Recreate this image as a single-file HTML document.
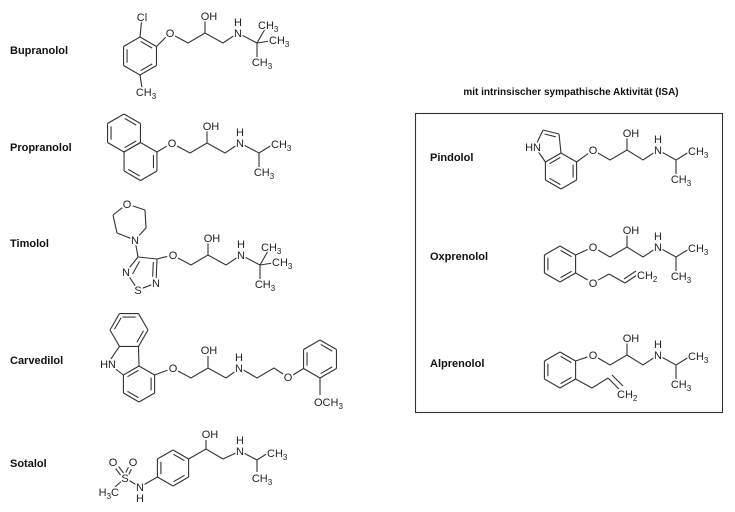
<!DOCTYPE html>
<html><head><meta charset="utf-8">
<style>
html,body{margin:0;padding:0;background:#fff;}
svg{display:block;}
text{font-family:"Liberation Sans",Arial,sans-serif;font-size:11px;fill:#222;stroke:#fff;stroke-width:3px;paint-order:stroke;stroke-linejoin:round;}
text.lab{font-weight:bold;font-size:11px;stroke:none;fill:#111;}
text.m{text-anchor:middle;}
text.e{text-anchor:end;}
#b path,#b line,.ch path{stroke:#333;stroke-width:1.1;fill:none;}
</style></head><body>
<svg id="s" width="735" height="512" viewBox="0 0 735 512" xmlns="http://www.w3.org/2000/svg">
<g id="b"></g>

<text class="lab" x="10" y="54">Bupranolol</text>
<text class="lab" x="10" y="151">Propranolol</text>
<text class="lab" x="10" y="247">Timolol</text>
<text class="lab" x="10" y="364">Carvedilol</text>
<text class="lab" x="10" y="467">Sotalol</text>
<text class="lab" x="571" y="95" style="text-anchor:middle;font-size:10px">mit intrinsischer sympathische Aktivität (ISA)</text>
<rect x="415.5" y="113.5" width="307" height="299" fill="none" stroke="#333" stroke-width="1.1"/>
<text class="lab" x="430" y="161">Pindolol</text>
<text class="lab" x="430" y="260">Oxprenolol</text>
<text class="lab" x="430" y="367">Alprenolol</text>

<!-- Bupranolol chain (tBu) -->
<g class="ch" transform="translate(170,33)">
<path d="M5,3 L18,10 L35,0 L53,10 L68,0 L87,10 M35,0 V-12 M87,10 L95,-4 M87,10 L100,8 M87,10 V24"/>
<text class="m" x="0" y="4">O</text><text class="m" x="39" y="-13">OH</text>
<text class="m" x="68" y="4">N</text><text class="m" x="68" y="-7">H</text>
<text x="88" y="-4">CH<tspan font-size="8" dy="3">3</tspan></text>
<text x="99" y="11">CH<tspan font-size="8" dy="3">3</tspan></text>
<text class="m" x="92" y="33">CH<tspan font-size="8" dy="3">3</tspan></text>
</g>
<text class="m" x="142" y="21">Cl</text>
<text class="m" x="146" y="96">CH<tspan font-size="8" dy="3">3</tspan></text>

<!-- Propranolol -->
<g class="ch" transform="translate(172,143)">
<path d="M5,3 L18,10 L35,0 L53,10 L68,0 L87,10 L100,2 M35,0 V-12 M87,10 V24"/>
<text class="m" x="0" y="4">O</text><text class="m" x="39" y="-13">OH</text>
<text class="m" x="68" y="4">N</text><text class="m" x="68" y="-7">H</text>
<text x="99" y="5">CH<tspan font-size="8" dy="3">3</tspan></text>
<text class="m" x="92" y="33">CH<tspan font-size="8" dy="3">3</tspan></text>
</g>

<!-- Timolol -->
<g class="ch" transform="translate(173,255)">
<path d="M5,3 L18,10 L35,0 L53,10 L68,0 L87,10 M35,0 V-12 M87,10 L95,-4 M87,10 L100,8 M87,10 V24"/>
<text class="m" x="0" y="4">O</text><text class="m" x="39" y="-13">OH</text>
<text class="m" x="68" y="4">N</text><text class="m" x="68" y="-7">H</text>
<text x="88" y="-4">CH<tspan font-size="8" dy="3">3</tspan></text>
<text x="99" y="11">CH<tspan font-size="8" dy="3">3</tspan></text>
<text class="m" x="92" y="33">CH<tspan font-size="8" dy="3">3</tspan></text>
</g>
<text class="m" x="127" y="208">O</text>
<text class="m" x="135" y="244">N</text>
<text class="m" x="126" y="276">N</text>
<text class="m" x="138" y="294">S</text>
<text class="m" x="156" y="287">N</text>

<!-- Carvedilol -->
<g class="ch" transform="translate(173,368)">
<path d="M5,3 L18,10 L35,0 L53,10 L67,0 L84,10 L101,0 L110,6 M35,0 V-12"/>
<text class="m" x="0" y="4">O</text><text class="m" x="36" y="-14">OH</text>
<text class="m" x="66" y="4">N</text><text class="m" x="66" y="-7">H</text>
<text class="m" x="115" y="13">O</text>
</g>
<text class="e" x="116" y="368">HN</text>
<text x="314" y="406">OCH<tspan font-size="8" dy="3">3</tspan></text>

<!-- Sotalol -->
<g class="ch">
<path d="M188.6,459 L206,449 L223,459 L240,451 L257,460 L268,453 M206,449 V440 M257,460 V472 M157.4,477 L140,487 L125,478 L115,487"/>
<text class="m" x="210" y="438">OH</text>
<text class="m" x="240" y="455">N</text><text class="m" x="240" y="444">H</text>
<text x="267" y="457">CH<tspan font-size="8" dy="3">3</tspan></text>
<text class="m" x="262" y="482">CH<tspan font-size="8" dy="3">3</tspan></text>
<text class="m" x="140" y="491">N</text><text class="m" x="140" y="502">H</text>
<text class="m" x="125" y="482">S</text>
<text class="m" x="113" y="466">O</text><text class="m" x="133" y="466">O</text>
<text class="e" x="119" y="496">H<tspan font-size="8" dy="3">3</tspan><tspan dy="-3">C</tspan></text>
</g>

<!-- Pindolol -->
<g class="ch" transform="translate(593,150)">
<path d="M5,3 L17,10 L34,0 L50,10 L65,0 L83,10 L96,2 M34,0 V-12 M83,10 V24"/>
<text class="m" x="0" y="4">O</text><text class="m" x="38" y="-13">OH</text>
<text class="m" x="65" y="4">N</text><text class="m" x="65" y="-7">H</text>
<text x="95" y="5">CH<tspan font-size="8" dy="3">3</tspan></text>
<text class="m" x="88" y="33">CH<tspan font-size="8" dy="3">3</tspan></text>
</g>
<text class="e" x="541" y="151">HN</text>

<!-- Oxprenolol -->
<g class="ch" transform="translate(593,247)">
<path d="M5,3 L17,10 L34,0 L50,10 L65,0 L83,10 L96,2 M34,0 V-12 M83,10 V24"/>
<text class="m" x="0" y="4">O</text><text class="m" x="38" y="-13">OH</text>
<text class="m" x="65" y="4">N</text><text class="m" x="65" y="-7">H</text>
<text x="95" y="5">CH<tspan font-size="8" dy="3">3</tspan></text>
<text class="m" x="88" y="33">CH<tspan font-size="8" dy="3">3</tspan></text>
</g>
<text class="m" x="593" y="287">O</text>
<text x="637" y="279">CH<tspan font-size="8" dy="3">2</tspan></text>

<!-- Alprenolol -->
<g class="ch" transform="translate(593,355)">
<path d="M5,3 L17,10 L34,0 L50,10 L65,0 L83,10 L96,2 M34,0 V-12 M83,10 V24"/>
<text class="m" x="0" y="4">O</text><text class="m" x="38" y="-13">OH</text>
<text class="m" x="65" y="4">N</text><text class="m" x="65" y="-7">H</text>
<text x="95" y="5">CH<tspan font-size="8" dy="3">3</tspan></text>
<text class="m" x="88" y="33">CH<tspan font-size="8" dy="3">3</tspan></text>
</g>
<text x="617" y="398">CH<tspan font-size="8" dy="3">2</tspan></text>
</svg>
<script>
(function(){
var g=document.getElementById('b'),NS='http://www.w3.org/2000/svg';
function L(a,b,c,d,t1,t2){t1=t1||0;t2=t2||0;var dx=c-a,dy=d-b,len=Math.hypot(dx,dy),ux=dx/len,uy=dy/len;
 a+=ux*t1;b+=uy*t1;c-=ux*t2;d-=uy*t2;
 var l=document.createElementNS(NS,'line');l.setAttribute('x1',a);l.setAttribute('y1',b);l.setAttribute('x2',c);l.setAttribute('y2',d);g.appendChild(l);}
function D(p,q,c,o){o=o||3.5;var dx=q[0]-p[0],dy=q[1]-p[1],len=Math.hypot(dx,dy),nx=-dy/len,ny=dx/len;
 var mx=(p[0]+q[0])/2-c[0],my=(p[1]+q[1])/2-c[1];if(nx*mx+ny*my>0){nx=-nx;ny=-ny;}
 var s=0.15;L(p[0]+dx*s+nx*o,p[1]+dy*s+ny*o,q[0]-dx*s+nx*o,q[1]-dy*s+ny*o);}
function R(cx,cy,r,dbl,rot){rot=(rot===undefined)?-90:rot;var v=[];for(var i=0;i<6;i++){var a=(rot+60*i)*Math.PI/180;v.push([cx+r*Math.cos(a),cy+r*Math.sin(a)]);}
 for(i=0;i<6;i++){var q=v[(i+1)%6];L(v[i][0],v[i][1],q[0],q[1]);}
 (dbl||[]).forEach(function(d){D(v[d],v[(d+1)%6],[cx,cy]);});return v;}
var v;
// Bupranolol
v=R(140,56,19,[0,2,4]);L(v[0][0],v[0][1],142,17,0,4);L(v[3][0],v[3][1],142,88);L(v[1][0],v[1][1],170,33,0,6);
// Propranolol
var A=R(124,133,19,[0,4]);var B=R(140.5,161.5,19,[1,3]);L(B[1][0],B[1][1],172,143,0,6);D(A[2],A[3],[124,133]);
// Timolol morpholine
L(127,204,145,210,6,0);L(145,210,146,228);L(146,228,135,240,0,4);L(135,240,117,233,4,0);L(117,233,113,215);L(113,215,127,204,0,6);
L(138,257,157,259);L(157,259,156,283,0,5);L(156,283,138,290,5,5);L(138,290,126,272,5,5);L(126,272,138,257,5,0);
L(135,240,138,257,5,0);L(157,259,173,255,0,6);
D([138,257],[128,275],[143,272]);D([157,259],[156,280],[143,272]);
// Carvedilol: top ring flat-top, vertices 0:right,1:lower-right,2:lower-left,3:left,4:upper-left,5:upper-right
var T=R(129,330,19,[0,3],0);D(T[4],T[5],[129,330]);
var W=R(139,384,18,[1,3]);
L(T[1][0],T[1][1],W[0][0],W[0][1]);L(T[2][0],T[2][1],108,363,0,5);L(108,363,W[5][0],W[5][1],5,0);
D(W[5],W[0],[139,384]);
L(W[1][0],W[1][1],173,368,0,6);
var Z=R(320,359,19,[0,2]);D(Z[4],Z[5],[320,359]);L(288,378,Z[4][0],Z[4][1],6,0);L(Z[3][0],Z[3][1],320,395);
// Sotalol
v=R(173,468,18,[0,2,4]);
L(123.5,479,111.5,463,5,7);L(126.5,477,114.5,461,5,7);
L(123.5,477,131.5,461,5,7);L(126.5,479,134.5,463,5,7);
// Pindolol
v=R(561,171,18,[1,3]);D(v[5],v[0],[561,171]);
L(v[0][0],v[0][1],559,134);L(559,134,543,130);L(543,130,535,147,0,5);L(535,147,v[5][0],v[5][1],5,0);
D([559,134],[543,130],[549,145]);
L(v[1][0],v[1][1],593,150,0,6);
// Oxprenolol
v=R(560,264,18,[0,2,4]);L(v[1][0],v[1][1],593,247,0,6);L(v[2][0],v[2][1],593,283,0,6);
L(593,283,609,274,6,0);L(609,274,625,283);L(625,283,637,275);L(624,279,636,271);
// Alprenolol
v=R(560,370,18,[0,2,4]);L(v[1][0],v[1][1],593,355,0,6);L(v[2][0],v[2][1],592,388);L(592,388,608,378);
L(608,378,619,389);L(612,375,623,386);
})();
</script>
</body></html>
